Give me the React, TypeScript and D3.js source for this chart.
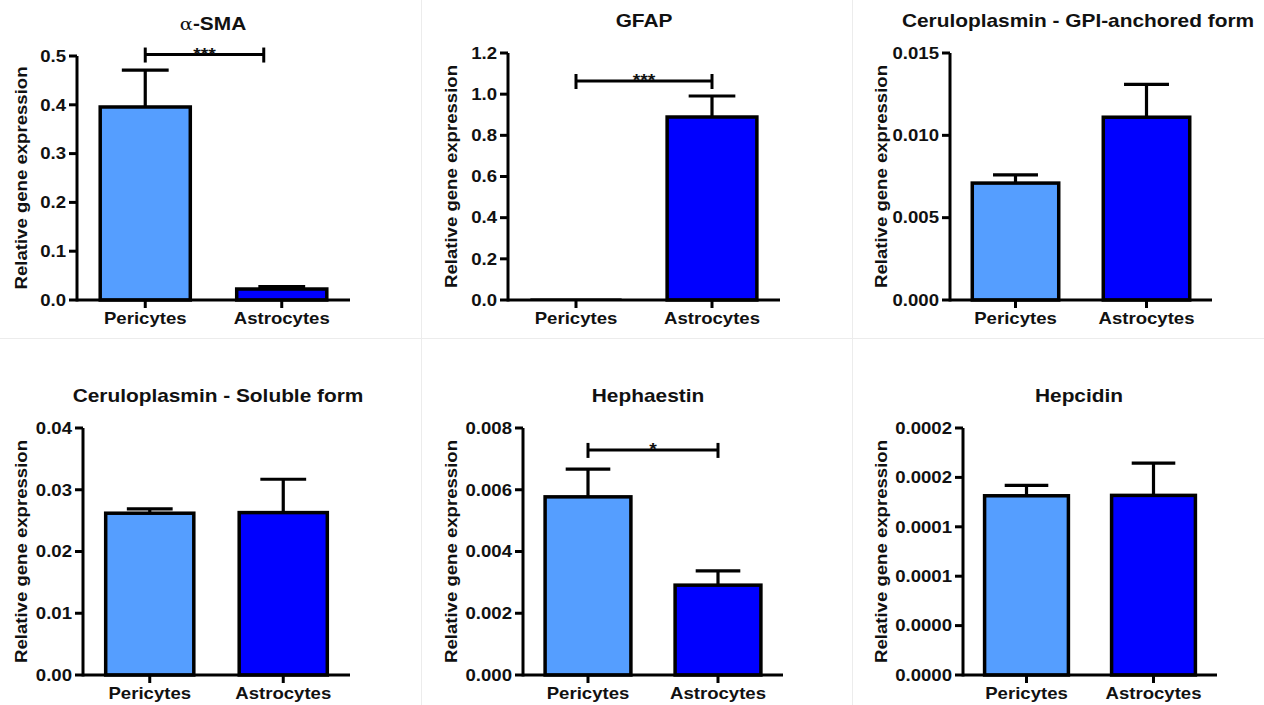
import React from "react";
import * as d3 from "d3";

// ---------- data ----------
const categories = ["Pericytes", "Astrocytes"];
const titles = [
  "α-SMA",
  "GFAP",
  "Ceruloplasmin - GPI-anchored form",
  "Ceruloplasmin - Soluble form",
  "Hephaestin",
  "Hepcidin",
];
const periMean = [0.3955, 0.004, 0.0071, 0.0262, 0.00577, 0.0001814];
const periSem = [0.0755, 0.0, 0.0005, 0.0007, 0.0009, 0.0000106];
const astroMean = [0.0225, 0.889, 0.0111, 0.0263, 0.00291, 0.0001818];
const astroSem = [0.005, 0.102, 0.002, 0.0054, 0.00046, 0.0000327];
const yMax = [0.5, 1.2, 0.015, 0.04, 0.008, 0.00025];
const tickValues = [
  [0, 0.1, 0.2, 0.3, 0.4, 0.5],
  [0, 0.2, 0.4, 0.6, 0.8, 1.0, 1.2],
  [0, 0.005, 0.01, 0.015],
  [0, 0.01, 0.02, 0.03, 0.04],
  [0, 0.002, 0.004, 0.006, 0.008],
  [0, 0.00005, 0.0001, 0.00015, 0.0002, 0.00025],
];
const tickLabels = [
  ["0.0", "0.1", "0.2", "0.3", "0.4", "0.5"],
  ["0.0", "0.2", "0.4", "0.6", "0.8", "1.0", "1.2"],
  ["0.000", "0.005", "0.010", "0.015"],
  ["0.00", "0.01", "0.02", "0.03", "0.04"],
  ["0.000", "0.002", "0.004", "0.006", "0.008"],
  ["0.0000", "0.0000", "0.0001", "0.0001", "0.0002", "0.0002"],
];
const sigPanel = [0, 1, 4];
const sigLabel = ["***", "***", "*"];
const sigLevel = [0.503, 1.064, 0.00729];
const yTitle = "Relative gene expression";

// ---------- layout ----------
const layout = [
  { left: 77, right: 350, top: 56, bottom: 300, titleX: 213, titleY: 30, labX: 27, bracketEndShift: -18 },
  { left: 508, right: 780, top: 53, bottom: 300, titleX: 644, titleY: 27, labX: 457, bracketEndShift: 0 },
  { left: 950, right: 1212, top: 53, bottom: 300, titleX: 1078, titleY: 27, labX: 887, bracketEndShift: 0 },
  { left: 83, right: 350, top: 428, bottom: 675, titleX: 218, titleY: 402, labX: 27, bracketEndShift: 0 },
  { left: 523, right: 783, top: 428, bottom: 675, titleX: 648, titleY: 402, labX: 457, bracketEndShift: 0 },
  { left: 963, right: 1217, top: 428, bottom: 675, titleX: 1079, titleY: 402, labX: 887, bracketEndShift: 0 },
];
const colors = ["#559EFF", "#0000FF"];
const FONT = "'Liberation Sans', Arial, Helvetica, sans-serif";
const SX = 1.14;
const FS = 16.3;

function Panel({ i }: { i: number }) {
  const L = layout[i];
  const x = d3
    .scaleBand<string>()
    .domain(categories)
    .range([L.left, L.right])
    .paddingInner(0.34)
    .paddingOuter(0.17);
  const y = d3.scaleLinear().domain([0, yMax[i]]).range([L.bottom, L.top]);
  const means = [periMean[i], astroMean[i]];
  const sems = [periSem[i], astroSem[i]];
  const bw = x.bandwidth();
  const capHalf = bw * 0.26;
  const si = sigPanel.indexOf(i);

  const title = titles[i];
  return (
    <g>
      {/* title */}
      <text
        transform={`translate(${L.titleX},${L.titleY}) scale(${SX},1)`}
        textAnchor="middle"
        fontFamily={FONT}
        fontWeight="bold"
        fontSize={18.3}
        fill="#111"
      >
        {title.startsWith("α") ? (
          <>
            <tspan fontWeight="normal" fontFamily="'DejaVu Serif', serif" fontSize={17}>α</tspan>
            <tspan>{title.slice(1)}</tspan>
          </>
        ) : (
          title
        )}
      </text>
      {/* y title */}
      <text
        transform={`translate(${L.labX},${(L.top + L.bottom) / 2}) rotate(-90) scale(${SX},1)`}
        textAnchor="middle"
        fontFamily={FONT}
        fontWeight="bold"
        fontSize={FS}
        fill="#111"
      >
        {yTitle}
      </text>
      {/* bars */}
      {categories.map((c, k) => {
        const x0 = x(c)!;
        const cx = x0 + bw / 2;
        const yt = y(means[k]);
        const ye = y(means[k] + sems[k]);
        return (
          <g key={c}>
            {sems[k] > 0 && (
              <g stroke="#000" strokeWidth={3.2}>
                <line x1={cx} x2={cx} y1={yt} y2={ye} />
                <line x1={cx - capHalf} x2={cx + capHalf} y1={ye} y2={ye} />
              </g>
            )}
            <rect
              x={x0}
              y={yt}
              width={bw}
              height={Math.max(0, y(0) - yt)}
              fill={colors[k]}
              stroke="#000"
              strokeWidth={means[k] / yMax[i] < 0.01 ? 1.5 : 3.5}
            />
          </g>
        );
      })}
      {/* axes */}
      <g stroke="#000" strokeWidth={3}>
        <line x1={L.left} x2={L.left} y1={L.top} y2={L.bottom + 1.5} />
        <line x1={L.left} x2={L.right} y1={L.bottom} y2={L.bottom} />
        {tickValues[i].map((v, k) => (
          <line key={k} x1={L.left - 8} x2={L.left} y1={y(v)} y2={y(v)} />
        ))}
        {categories.map((c) => (
          <line key={c} x1={x(c)! + bw / 2} x2={x(c)! + bw / 2} y1={L.bottom} y2={L.bottom + 8} />
        ))}
      </g>
      {/* tick labels */}
      {tickValues[i].map((v, k) => (
        <text
          key={k}
          transform={`translate(${L.left - 11},${y(v) + 5.8}) scale(${SX},1)`}
          textAnchor="end"
          fontFamily={FONT}
          fontWeight="bold"
          fontSize={FS}
          fill="#111"
        >
          {tickLabels[i][k]}
        </text>
      ))}
      {categories.map((c) => (
        <text
          key={c}
          transform={`translate(${x(c)! + bw / 2},${L.bottom + 24}) scale(${SX},1)`}
          textAnchor="middle"
          fontFamily={FONT}
          fontWeight="bold"
          fontSize={FS}
          fill="#111"
        >
          {c}
        </text>
      ))}
      {/* significance */}
      {si >= 0 && (() => {
        const yb = y(sigLevel[si]);
        const xa = x(categories[0])! + bw / 2;
        const xb = x(categories[1])! + bw / 2 + L.bracketEndShift;
        return (
          <g>
            <g stroke="#000" strokeWidth={3}>
              <line x1={xa} x2={xb} y1={yb} y2={yb} />
              <line x1={xa} x2={xa} y1={yb - 7} y2={yb + 8} />
              <line x1={xb} x2={xb} y1={yb - 7} y2={yb + 8} />
            </g>
            <text
              transform={`translate(${(xa + xb) / 2},${yb + 5}) scale(${SX},1)`}
              textAnchor="middle"
              fontFamily={FONT}
              fontWeight="bold"
              fontSize={17}
              fill="#111"
            >
              {sigLabel[si]}
            </text>
          </g>
        );
      })()}
    </g>
  );
}

export default function App() {
  return (
    <svg
      width={1264}
      height={705}
      style={{ position: "absolute", left: 0, top: 0, background: "#fff" }}
    >
      <rect x={0} y={0} width={1264} height={705} fill="#fff" />
      <g stroke="#ececec" strokeWidth={1}>
        <line x1={0} x2={1264} y1={338.5} y2={338.5} />
        <line x1={421.5} x2={421.5} y1={0} y2={705} />
        <line x1={852.5} x2={852.5} y1={0} y2={705} />
      </g>
      {titles.map((_, i) => (
        <Panel key={i} i={i} />
      ))}
    </svg>
  );
}
